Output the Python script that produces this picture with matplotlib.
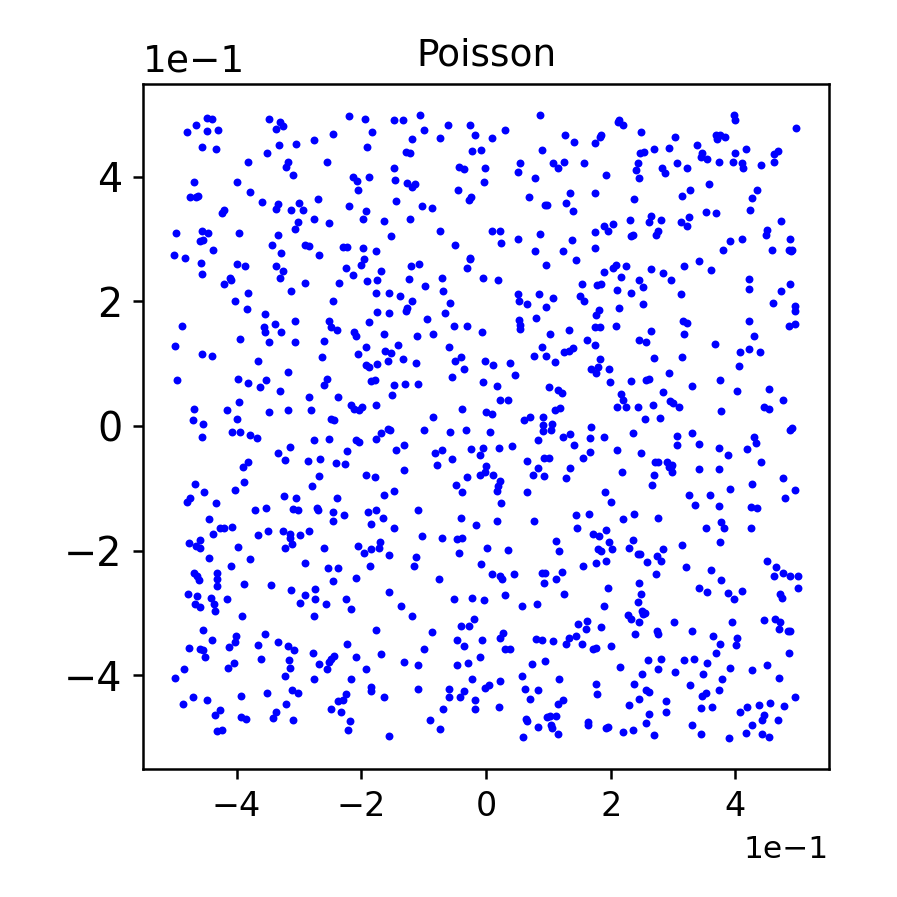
#!/usr/bin/env python3
import numpy as np
import matplotlib
matplotlib.use('Agg')
import matplotlib.pyplot as plt

# sample points, in tenths, by region of the square
top_left = [(-4.47,4.94),(-4.40,4.92),(-4.65,4.83),(-4.79,4.72),(-4.47,4.73),(-4.29,4.74),(-4.56,4.48),(-4.33,4.44),
	(-3.48,4.92),(-3.31,4.88),(-3.25,4.81),(-3.37,4.77),(-2.20,4.97),(-1.94,4.92),(-2.46,4.69),(-1.83,4.72),
	(-2.75,4.58),(-3.05,4.52),(-3.32,4.50),(-1.90,4.47),(-3.51,4.38),(-3.82,4.24),(-3.17,4.24),(-3.21,4.16),
	(-2.55,4.23),(-3.10,4.03),(-2.13,4.00),(-1.88,4.00),(-2.07,3.93),(-4.68,3.92),(-3.99,3.91),(-2.05,3.78),
	(-3.78,3.76),(-4.74,3.68),(-4.65,3.67),(-4.61,3.69),(-2.70,3.64),(-3.59,3.60),(-3.34,3.56),(-3.36,3.48),
	(-3.00,3.57),(-3.13,3.46),(-2.94,3.47),(-2.20,3.53),(-1.93,3.45),(-4.20,3.46),(-4.24,3.41),(-2.75,3.32),
	(-2.52,3.26),(-1.97,3.32),(-3.02,3.27),(-3.07,3.16),(-4.97,3.09),(-4.56,3.12),(-4.45,3.10),(-3.96,3.09),
	(-3.34,3.06),(-4.59,2.97),(-4.54,2.99),(-3.43,2.90),(-2.91,2.91),(-2.84,2.88),(-2.30,2.87),(-2.23,2.87),
	(-1.97,2.86),(-4.38,2.83),(-3.29,2.77),(-2.67,2.75),(-5.00,2.74),(-4.82,2.70),(-1.96,2.68),(-4.57,2.61),
	(-3.99,2.59),(-3.87,2.57),(-3.36,2.56),(-2.01,2.58),(-2.25,2.53),(-3.26,2.49),(-4.56,2.44),(-2.14,2.42),
	(-3.30,2.38),(-4.11,2.38),(-4.09,2.34),(-1.90,2.33),(-4.20,2.27),(-2.91,2.30),(-2.35,2.29),(-3.82,2.14),
	(-3.12,2.17),(-4.03,2.01),(-2.45,2.00),(-3.84,1.87)]

top_mid = [(-1.48,4.90),(-1.33,4.91),(-1.06,4.99),(-0.99,4.74),(-0.61,4.83),(-0.26,4.82),(-1.19,4.60),(-0.73,4.62),
	(-0.18,4.67),(0.10,4.62),(0.30,4.74),(0.87,4.98),(1.26,4.67),(1.41,4.56),(1.74,4.54),(1.82,4.64),(1.85,4.67),
	(-1.29,4.40),(-1.22,4.38),(-0.22,4.41),(-0.08,4.42),(0.89,4.43),(0.54,4.21),(1.08,4.22),(1.16,4.14),(1.25,4.23),
	(1.57,4.21),(-1.47,4.14),(-0.43,4.16),(-0.36,4.12),(-0.01,4.14),(0.51,4.07),(0.79,3.97),(-1.46,3.95),(-0.03,3.92),
	(-1.27,3.89),(-1.14,3.88),(-1.19,3.83),(-0.45,3.78),(1.34,3.73),(1.74,3.74),(0.69,3.68),(-0.24,3.67),(-0.28,3.62),
	(-1.44,3.61),(-1.03,3.52),(-0.86,3.50),(0.95,3.54),(0.98,3.54),(1.28,3.57),(1.39,3.45),(-1.63,3.28),(-1.22,3.32),
	(-0.73,3.12),(0.10,3.13),(0.22,3.13),(0.86,3.08),(1.75,3.11),(-1.53,3.05),(0.51,3.00),(1.38,2.99),(0.24,2.93),
	(-0.50,2.90),(1.75,2.86),(-1.76,2.81),(0.79,2.81),(1.23,2.81),(1.44,2.66),(-0.25,2.70),(-0.26,2.68),(-1.20,2.56),
	(-1.08,2.59),(0.96,2.58),(-0.31,2.54),(-1.68,2.48),(-1.75,2.34),(-1.23,2.35),(-0.70,2.37),(-0.05,2.38),(0.20,2.34),
	(-0.97,2.25),(1.54,2.28),(1.78,2.26),(1.85,2.28),(-1.76,2.13),(-1.56,2.13),(-1.38,2.08),(-0.69,2.17),(0.51,2.12),
	(0.85,2.11),(1.08,2.05),(1.51,2.09),(-1.19,2.00),(-0.58,1.98),(0.53,2.00),(0.66,1.95),(0.97,1.91),(1.57,2.00),
	(-1.27,1.89),(-1.28,1.84),(-1.75,1.83),(-1.56,1.82),(-0.65,1.81),(1.81,1.86)]

top_right = [(2.11,4.88),(2.14,4.91),(2.19,4.82),(2.48,4.72),(3.03,4.64),(3.97,4.98),(4.00,4.90),(4.97,4.78),(3.69,4.66),
	(3.75,4.67),(3.70,4.61),(3.84,4.64),(3.39,4.51),(2.93,4.46),(2.69,4.45),(2.53,4.40),(2.47,4.37),(4.17,4.44),(4.00,4.38),
	(4.69,4.41),(4.61,4.36),(3.46,4.38),(3.44,4.32),(3.55,4.28),(3.74,4.24),(3.96,4.23),(4.10,4.22),(4.12,4.13),(4.41,4.19),
	(4.62,4.23),(2.44,4.22),(3.07,4.21),(3.22,4.13),(2.82,4.13),(2.87,4.05),(2.41,4.10),(1.92,4.02),(2.45,3.97),(3.58,3.88),
	(4.35,3.78),(3.27,3.78),(3.14,3.69),(4.26,3.66),(2.37,3.64),(4.23,3.47),(3.53,3.43),(3.69,3.42),(2.64,3.37),(3.26,3.35),
	(2.31,3.30),(2.61,3.27),(2.80,3.31),(3.12,3.27),(3.22,3.21),(4.73,3.29),(2.03,3.24),(1.89,3.20),(1.95,3.13),(4.51,3.15),
	(4.49,3.07),(2.75,3.12),(2.72,3.07),(2.35,3.07),(2.33,3.05),(4.87,3.00),(4.10,3.00),(3.91,2.96),(3.80,2.83),(4.59,2.83),
	(4.86,2.82),(4.91,2.82),(4.89,2.81),(3.42,2.65),(3.18,2.57),(3.61,2.50),(2.09,2.58),(2.03,2.54),(2.25,2.56),(2.65,2.52),
	(2.84,2.46),(1.90,2.47),(2.16,2.39),(2.45,2.34),(2.97,2.34),(4.21,2.35),(2.51,2.23),(4.87,2.27),(2.10,2.18),(4.21,2.20),
	(4.73,2.16),(2.33,2.13),(3.13,2.12),(2.13,1.90),(2.51,1.95),(4.60,1.97),(4.96,1.92),(4.96,1.84)]

mid_left = [(-3.54,1.79),(-3.39,1.64),(-3.07,1.69),(-2.52,1.68),(-1.87,1.66),(-4.87,1.61),(-3.56,1.59),(-3.54,1.50),(-3.29,1.51),
	(-2.48,1.58),(-2.39,1.54),(-2.11,1.50),(-2.08,1.44),(-3.94,1.40),(-3.48,1.35),(-3.07,1.35),(-2.59,1.36),(-4.98,1.28),(-1.92,1.27),
	(-4.56,1.16),(-4.40,1.13),(-2.05,1.15),(-2.63,1.10),(-3.65,1.04),(-1.92,0.98),(-1.88,0.95),(-3.17,0.87),(-4.95,0.74),(-3.97,0.75),
	(-3.81,0.69),(-3.53,0.74),(-3.63,0.62),(-2.55,0.75),(-2.59,0.66),(-1.85,0.72),(-3.31,0.56),(-2.83,0.46),(-2.38,0.46),(-3.96,0.39),
	(-2.17,0.33),(-2.12,0.28),(-2.03,0.26),(-1.99,0.30),(-4.68,0.28),(-4.16,0.25),(-3.48,0.23),(-3.18,0.26),(-2.80,0.26),(-4.70,0.09),
	(-3.99,0.11),(-4.53,0.03),(-2.48,0.12),(-2.44,0.10),(-4.07,-0.09),(-3.95,-0.09),(-4.56,-0.17),(-3.78,-0.15),(-3.67,-0.20),(-2.76,-0.23),
	(-2.52,-0.21),(-2.09,-0.23),(-2.04,-0.25),(-3.15,-0.33),(-3.34,-0.43),(-2.23,-0.40),(-3.23,-0.55),(-2.85,-0.56),(-2.66,-0.53),(-2.41,-0.60),
	(-2.26,-0.61),(-3.81,-0.58),(-3.89,-0.66),(-1.92,-0.78),(-2.67,-0.80),(-3.88,-0.90),(-4.66,-0.93),(-2.79,-0.96),(-4.02,-1.02),(-4.52,-1.06),
	(-3.24,-1.13),(-3.05,-1.16),(-2.39,-1.15),(-4.74,-1.16),(-4.79,-1.22),(-4.33,-1.23),(-3.52,-1.31),(-3.71,-1.34),(-3.10,-1.33),(-3.01,-1.34),
	(-2.71,-1.31),(-2.70,-1.34),(-2.46,-1.38),(-2.28,-1.43),(-1.89,-1.38),(-4.44,-1.49),(-2.46,-1.52),(-1.84,-1.57),(-4.26,-1.64),(-4.20,-1.64),
	(-4.07,-1.62),(-4.38,-1.73),(-3.66,-1.75),(-3.49,-1.69),(-3.25,-1.68),(-3.15,-1.73),(-2.98,-1.75),(-2.83,-1.69),(-4.59,-1.82),(-3.15,-1.79),
	(-4.76,-1.88)]

mid_mid = [(-0.94,1.71),(0.53,1.70),(0.80,1.74),(1.77,1.78),(0.54,1.62),(0.55,1.56),(-0.51,1.61),(-0.31,1.60),(1.33,1.54),(1.74,1.59),(1.82,1.59),
	(-1.63,1.48),(-1.11,1.45),(-0.85,1.47),(-0.07,1.50),(1.02,1.47),(1.62,1.38),(-1.41,1.30),(1.74,1.30),(-0.59,1.26),(0.89,1.26),(1.40,1.25),
	(1.33,1.21),(1.25,1.19),(-1.62,1.21),(-1.52,1.17),(0.97,1.13),(0.77,1.12),(-0.40,1.11),(-1.33,1.08),(-0.49,1.05),(-0.02,1.05),(1.82,1.08),
	(-1.74,1.00),(-1.57,1.04),(-1.13,1.01),(0.12,0.98),(0.38,1.01),(1.10,1.02),(-0.36,0.91),(1.68,0.92),(1.79,0.95),(1.76,0.85),(0.47,0.82),
	(-0.55,0.79),(-1.78,0.73),(-0.05,0.71),(-1.47,0.65),(-1.30,0.67),(-1.09,0.68),(0.17,0.64),(1.01,0.62),(1.16,0.57),(1.22,0.53),(-1.51,0.50),
	(0.22,0.42),(0.35,0.41),(-1.77,0.34),(-0.38,0.27),(0.00,0.23),(0.09,0.19),(1.18,0.29),(1.11,0.26),(-0.85,0.15),(0.71,0.15),(0.61,0.09),
	(0.92,0.14),(0.91,0.02),(1.06,0.03),(1.05,-0.07),(0.91,-0.08),(1.68,-0.02),(-1.57,-0.04),(-1.54,-0.07),(-1.69,-0.12),(-1.00,-0.07),(-0.58,-0.10),
	(-0.32,-0.07),(0.07,-0.10),(1.35,-0.13),(1.24,-0.17),(1.67,-0.19),(-1.77,-0.21),(0.83,-0.23),(-1.32,-0.30),(1.41,-0.30),(0.41,-0.32),(-1.44,-0.38),
	(-0.04,-0.35),(0.21,-0.35),(-0.24,-0.37),(-0.71,-0.39),(-0.82,-0.44),(-0.09,-0.46),(1.67,-0.41),(-0.55,-0.53),(1.55,-0.51),(0.93,-0.52),(1.01,-0.51),
	(0.65,-0.56),(-0.78,-0.62),(0.00,-0.64),(-1.31,-0.70),(0.83,-0.67),(1.35,-0.68),(-0.02,-0.73),(-0.09,-0.79),(0.11,-0.78),(0.75,-0.78),(0.93,-0.80),
	(-0.30,-0.81),(-1.78,-0.82),(1.28,-0.84),(0.23,-0.88),(-0.48,-0.95),(0.19,-0.96),(0.18,-1.05),(-0.38,-1.06),(0.66,-1.06),(-1.48,-1.05),(-1.63,-1.10),
	(0.24,-1.23),(-1.77,-1.35),(-1.09,-1.34),(1.44,-1.43),(1.65,-1.41),(-0.40,-1.48),(-1.65,-1.48),(0.17,-1.53),(0.77,-1.52),(-0.16,-1.59),(-1.47,-1.63),
	(1.46,-1.63),(-1.02,-1.77),(-0.70,-1.80),(-0.47,-1.81),(-0.38,-1.79),(1.71,-1.73),(1.81,-1.76),(-1.70,-1.86),(1.13,-1.85)]

mid_right = [(2.08,1.61),(2.65,1.53),(3.16,1.68),(3.23,1.65),(3.18,1.48),(4.21,1.68),(4.86,1.60),(4.96,1.64),(4.30,1.45),(2.46,1.38),(2.57,1.35),
	(3.67,1.32),(4.21,1.23),(4.07,1.19),(4.39,1.18),(2.69,1.09),(3.14,1.11),(4.05,0.97),(1.98,0.92),(2.93,0.85),(1.99,0.71),(2.32,0.72),(2.56,0.73),
	(2.62,0.75),(3.76,0.74),(3.30,0.64),(4.53,0.60),(4.02,0.56),(2.84,0.54),(2.17,0.52),(2.20,0.42),(4.77,0.42),(2.95,0.40),(3.00,0.37),(3.10,0.30),
	(2.10,0.31),(2.25,0.30),(2.44,0.31),(2.68,0.34),(4.45,0.31),(4.54,0.27),(3.77,0.24),(2.79,0.13),(2.55,0.11),(4.90,-0.03),(4.88,-0.06),(3.30,-0.11),
	(2.36,-0.12),(3.07,-0.16),(4.30,-0.17),(1.89,-0.18),(3.07,-0.31),(3.42,-0.29),(4.33,-0.28),(2.10,-0.39),(2.48,-0.44),(3.73,-0.36),(4.18,-0.37),
	(3.88,-0.46),(4.41,-0.57),(2.71,-0.58),(2.76,-0.58),(2.91,-0.57),(2.99,-0.62),(2.93,-0.66),(2.99,-0.73),(2.97,-0.65),(3.42,-0.69),(3.74,-0.69),
	(2.18,-0.73),(2.69,-0.79),(4.77,-0.83),(2.66,-0.95),(4.26,-0.93),(3.91,-1.01),(4.96,-1.02),(1.91,-1.06),(3.26,-1.10),(3.59,-1.11),(4.79,-1.15),
	(2.00,-1.22),(3.35,-1.26),(3.73,-1.29),(4.25,-1.30),(4.35,-1.32),(2.37,-1.41),(2.19,-1.49),(2.75,-1.47),(3.77,-1.54),(3.53,-1.64),(3.81,-1.64),
	(4.25,-1.64),(1.92,-1.66),(2.35,-1.83),(1.98,-1.86),(3.75,-1.86)]

low_left = [(-4.65,-1.92),(-4.59,-1.96),(-3.98,-1.94),(-3.22,-1.96),(-3.11,-1.89),(-2.60,-1.96),(-2.06,-1.93),(-1.95,-2.04),(-1.84,-1.97),(-4.44,-2.12),
	(-3.79,-2.13),(-2.90,-2.19),(-4.09,-2.24),(-2.53,-2.28),(-2.38,-2.27),(-1.86,-2.24),(-4.68,-2.36),(-4.32,-2.35),(-4.64,-2.40),(-4.60,-2.47),(-4.31,-2.45),
	(-2.09,-2.43),(-2.46,-2.49),(-3.88,-2.54),(-3.44,-2.55),(-4.31,-2.56),(-3.13,-2.63),(-2.74,-2.61),(-4.78,-2.69),(-4.64,-2.73),(-2.90,-2.71),(-4.41,-2.76),
	(-4.15,-2.78),(-2.74,-2.78),(-2.25,-2.78),(-4.66,-2.85),(-4.59,-2.90),(-4.36,-2.86),(-2.99,-2.84),(-2.56,-2.86),(-2.17,-2.94),(-4.34,-2.97),(-3.91,-3.04),
	(-2.75,-3.05),(-4.54,-3.27),(-3.55,-3.33),(-4.01,-3.37),(-4.40,-3.43),(-4.02,-3.47),(-3.34,-3.47),(-2.23,-3.50),(-3.65,-3.51),(-4.12,-3.54),(-3.17,-3.53),
	(-4.77,-3.56),(-4.58,-3.58),(-4.53,-3.59),(-3.08,-3.59),(-2.78,-3.64),(-2.44,-3.68),(-4.51,-3.70),(-2.09,-3.70),(-2.48,-3.73),(-3.60,-3.74),(-3.16,-3.76),
	(-2.52,-3.78),(-4.04,-3.80),(-2.68,-3.82),(-4.14,-3.88),(-3.14,-3.88),(-4.84,-3.90),(-2.55,-3.90),(-1.92,-3.89),(-4.98,-4.04),(-3.22,-4.01),(-2.75,-4.06),
	(-2.16,-4.06),(-1.85,-4.18),(-1.84,-4.25),(-3.11,-4.23),(-3.02,-4.28),(-3.51,-4.28),(-2.25,-4.29),(-4.69,-4.34),(-3.93,-4.33),(-4.48,-4.40),(-2.38,-4.41),
	(-2.29,-4.40),(-4.86,-4.45),(-3.21,-4.46),(-4.27,-4.55),(-2.49,-4.53),(-3.37,-4.58),(-2.32,-4.59),(-4.35,-4.64),(-3.93,-4.66),(-3.85,-4.70),(-3.41,-4.68),
	(-3.10,-4.72),(-2.18,-4.73),(-4.31,-4.89),(-4.23,-4.88),(-2.21,-4.87)]

low_mid = [(-1.72,-1.96),(0.01,-1.95),(0.35,-1.99),(1.17,-2.00),(-0.44,-2.03),(-1.55,-2.07),(-1.13,-2.10),(1.80,-1.97),(1.85,-2.00),(-1.15,-2.24),(-0.08,-2.22),
	(1.55,-2.24),(1.77,-2.20),(0.09,-2.37),(0.22,-2.41),(0.25,-2.45),(0.45,-2.38),(0.89,-2.35),(0.95,-2.36),(1.22,-2.34),(-0.76,-2.46),(1.13,-2.46),(0.93,-2.51),
	(-1.55,-2.66),(1.25,-2.70),(0.30,-2.71),(-0.51,-2.78),(-0.23,-2.75),(-0.03,-2.79),(-1.36,-2.88),(0.82,-2.86),(0.57,-2.89),(-1.18,-3.05),(-0.19,-3.10),(1.62,-3.13),
	(-0.40,-3.21),(-0.27,-3.20),(1.48,-3.18),(1.61,-3.25),(1.84,-3.22),(-1.76,-3.27),(-0.86,-3.30),(0.28,-3.32),(0.22,-3.40),(1.45,-3.37),(1.33,-3.40),(-0.46,-3.43),
	(-0.06,-3.43),(0.80,-3.42),(0.90,-3.43),(1.07,-3.44),(1.28,-3.50),(1.54,-3.50),(-0.35,-3.52),(0.38,-3.57),(0.31,-3.58),(1.77,-3.56),(1.72,-3.58),(-1.00,-3.58),
	(-1.69,-3.66),(-0.10,-3.71),(-1.32,-3.78),(0.94,-3.77),(-0.29,-3.80),(-1.09,-3.84),(-0.46,-3.83),(0.74,-3.81),(0.58,-4.01),(-0.23,-4.06),(1.17,-4.06),(0.23,-4.09),
	(1.76,-4.13),(-1.09,-4.21),(-0.60,-4.22),(0.05,-4.15),(-0.02,-4.20),(-0.36,-4.25),(0.63,-4.21),(0.83,-4.24),(1.78,-4.29),(-1.63,-4.34),(-0.59,-4.34),(-0.41,-4.34),
	(-0.18,-4.40),(0.70,-4.37),(1.23,-4.40),(1.16,-4.46),(0.21,-4.50),(-0.18,-4.53),(-0.69,-4.54),(-0.89,-4.71),(0.64,-4.70),(0.66,-4.73),(0.98,-4.66),(1.02,-4.65),
	(1.13,-4.65),(1.05,-4.80),(1.06,-4.84),(0.84,-4.82),(1.63,-4.75),(1.63,-4.79),(-0.73,-4.86),(1.16,-4.94),(-1.55,-4.97),(0.60,-4.98)]

low_right = [(2.02,-1.97),(2.29,-1.96),(3.14,-1.91),(2.84,-1.98),(2.44,-2.05),(2.47,-2.06),(2.74,-2.08),(1.93,-2.16),(2.58,-2.18),(2.80,-2.16),(4.50,-2.17),(4.65,-2.26),
	(3.21,-2.26),(3.60,-2.31),(2.72,-2.37),(4.76,-2.36),(4.88,-2.40),(5.00,-2.41),(4.61,-2.41),(3.77,-2.47),(2.45,-2.52),(1.96,-2.59),(3.42,-2.59),(5.00,-2.60),(3.54,-2.66),
	(3.88,-2.67),(4.11,-2.65),(2.49,-2.70),(4.71,-2.70),(4.75,-2.75),(3.97,-2.78),(2.44,-2.83),(1.89,-2.89),(2.50,-2.96),(2.51,-3.01),(2.55,-3.00),(2.27,-3.03),(2.32,-3.09),
	(2.46,-3.14),(3.01,-3.14),(3.95,-3.15),(4.45,-3.11),(4.63,-3.10),(4.72,-3.14),(4.70,-3.25),(4.84,-3.28),(4.87,-3.29),(3.30,-3.28),(2.74,-3.28),(2.75,-3.34),(2.39,-3.33),
	(3.64,-3.36),(4.03,-3.40),(3.75,-3.49),(4.01,-3.51),(2.00,-3.52),(4.86,-3.64),(3.69,-3.64),(2.80,-3.74),(2.59,-3.76),(3.18,-3.75),(3.33,-3.73),(3.54,-3.80),(2.15,-3.86),
	(4.50,-3.83),(2.75,-3.90),(3.92,-3.88),(4.26,-3.91),(3.03,-3.95),(2.50,-3.98),(3.48,-3.98),(4.70,-4.04),(3.79,-4.06),(2.38,-4.13),(3.27,-4.16),(2.56,-4.24),(2.62,-4.26),
	(3.73,-4.24),(3.53,-4.28),(3.46,-4.33),(2.45,-4.37),(2.89,-4.41),(4.96,-4.34),(4.55,-4.44),(2.30,-4.47),(4.38,-4.48),(3.62,-4.50),(4.78,-4.49),(4.19,-4.51),(3.44,-4.52),
	(2.89,-4.59),(4.07,-4.59),(2.62,-4.62),(4.45,-4.64),(4.43,-4.72),(4.68,-4.71),(2.57,-4.76),(4.27,-4.80),(1.95,-4.82),(1.92,-4.85),(3.30,-4.80),(2.19,-4.90),(2.36,-4.88),
	(2.69,-4.95),(3.44,-4.94),(4.17,-4.93),(4.42,-4.94),(4.54,-4.99),(3.90,-5.01)]

regions = [top_left, top_mid, top_right, mid_left, mid_mid, mid_right, low_left, low_mid, low_right]
pts = np.array([p for r in regions for p in r]) * 0.1

fig = plt.figure(figsize=(2.99, 2.99), dpi=300)
ax = fig.add_axes([0.1594, 0.1427, 0.7648, 0.7637])
ax.scatter(pts[:,0], pts[:,1], s=3.6, c='blue', linewidths=0)
ax.set_xlim(-0.55, 0.55)
ax.set_ylim(-0.55, 0.5485)
ax.set_title('Poisson', fontsize=9, pad=4.5)
ax.ticklabel_format(axis='both', style='sci', scilimits=(0,0))
ax.tick_params(axis='x', labelsize=8, width=0.6, length=2.5, pad=2.5)
ax.tick_params(axis='y', labelsize=9.5, width=0.6, length=2.5, pad=2.5)
ax.xaxis.get_offset_text().set_fontsize(7.5)
ax.yaxis.get_offset_text().set_fontsize(9)
for s in ax.spines.values():
	s.set_linewidth(0.6)
fig.savefig('out.png', dpi=300)
